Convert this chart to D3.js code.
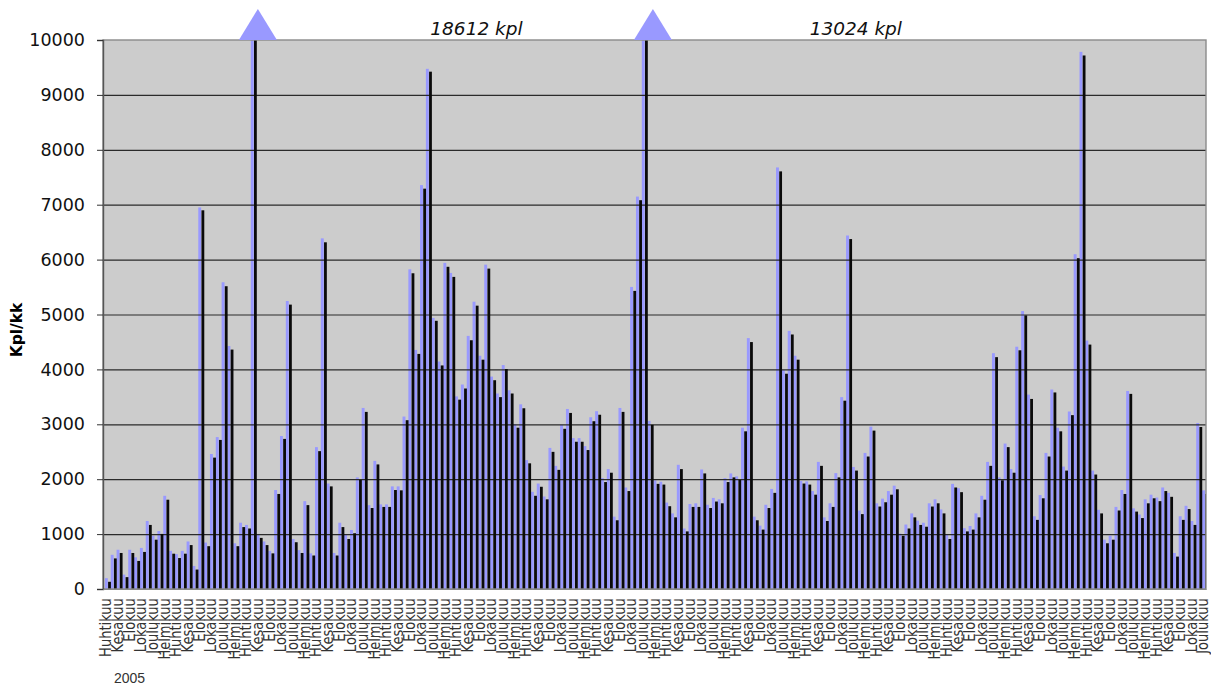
<!DOCTYPE html>
<html>
<head>
<meta charset="utf-8">
<title>Kpl/kk</title>
<script src="https://cdn.jsdelivr.net/npm/d3@7"></script>
<style>
  html, body { margin: 0; padding: 0; background: #fff; }
  svg { display: block; }
  svg text { font-family: "DejaVu Sans", sans-serif; }
</style>
</head>
<body>
<div id="chart"></div>
<script>
const monthNames = ["Huhtikuu", "Kesakuu", "Elokuu", "Lokakuu", "Joulukuu", "Helmikuu"];
const yTicks = [0, 1000, 2000, 3000, 4000, 5000, 6000, 7000, 8000, 9000, 10000];
const yearLabel = "2005";
const yTitle = "Kpl/kk";

// front series, two months per label
const blackValues = [
  131, 557, 656, 216, 656, 511, 675, 1167, 898, 1003, 1626, 643, 564, 643, 800, 354,
  6898, 780, 2393, 2715, 5515, 4361, 780, 1128, 1102, 18612, 931, 800, 649, 1731, 2734,
  5180, 852, 656, 1528, 610, 2511, 6315, 1869, 610, 1128, 911, 1016, 1987, 3226, 1475,
  2269, 1495, 1495, 1803, 1797, 3075, 5751, 4282, 7292, 9423, 4885, 4072, 5869, 5685,
  3449, 3652, 4531, 5161, 4177, 5836, 3803, 3495, 4007, 3561, 2938, 3292, 2289, 1698,
  1862, 1633, 2498, 2170, 2918, 3207, 2682, 2682, 2531, 3056, 3174, 1948, 2118, 1252,
  3226, 1784, 5430, 7082, 13024, 2990, 1915, 1902, 1508, 1305, 2184, 1049, 1495, 1495,
  2105, 1475, 1593, 1561, 1948, 2033, 1987, 2872, 4498, 1252, 1082, 1475, 1751, 7607,
  3921, 4636, 4177, 1921, 1902, 1718, 2243, 1239, 1495, 2033, 3430, 6374, 2157, 1364,
  2413, 2885, 1502, 1580, 1718, 1816, 970, 1102, 1305, 1167, 1134, 1502, 1561, 1377,
  911, 1849, 1764, 1049, 1082, 1305, 1626, 2243, 4223, 1980, 2584, 2118, 4348, 4984,
  3462, 1259, 1652, 2413, 3580, 2872, 2157, 3167, 6026, 9718, 4452, 2085, 1377, 833,
  898, 1430, 1731, 3554, 1410, 1292, 1561, 1652, 1600, 1784, 1679, 590, 1259, 1456,
  1167, 2951, 1731
];

// lighter series just behind it
const blueValues = [
  197, 623, 715, 262, 715, 577, 748, 1239, 970, 1056, 1698, 695, 636, 695, 866, 420,
  6950, 846, 2459, 2767, 5587, 4426, 833, 1207, 1167, 18680, 1003, 866, 695, 1803, 2787,
  5246, 911, 708, 1600, 649, 2584, 6387, 1921, 656, 1207, 984, 1075, 2033, 3298, 1528,
  2334, 1541, 1541, 1869, 1869, 3141, 5823, 4354, 7357, 9475, 4938, 4144, 5941, 5757,
  3508, 3725, 4610, 5233, 4249, 5908, 3869, 3561, 4079, 3620, 3003, 3364, 2348, 1770,
  1921, 1685, 2570, 2243, 2990, 3279, 2748, 2748, 2603, 3128, 3239, 2020, 2184, 1318,
  3298, 1849, 5502, 7148, 13090, 3062, 1980, 1954, 1574, 1377, 2262, 1102, 1548, 1561,
  2177, 1534, 1659, 1633, 2020, 2105, 2052, 2938, 4570, 1318, 1154, 1534, 1823, 7679,
  3987, 4702, 4249, 1967, 1961, 1784, 2315, 1305, 1561, 2111, 3495, 6439, 2223, 1430,
  2479, 2957, 1561, 1646, 1784, 1882, 1010, 1174, 1377, 1246, 1207, 1561, 1633, 1449,
  984, 1915, 1836, 1108, 1148, 1377, 1698, 2315, 4295, 2033, 2649, 2184, 4413, 5062,
  3541, 1325, 1711, 2479, 3633, 2938, 2230, 3233, 6098, 9784, 4525, 2157, 1443, 898,
  970, 1495, 1803, 3607, 1469, 1357, 1633, 1718, 1666, 1849, 1751, 656, 1325, 1515,
  1239, 3023, 1797
];

const notes = [
  { index: 25, text: "18612 kpl", textIndex: 64 },
  { index: 92, text: "13024 kpl", textIndex: 129 }
];

const totalWidth = 1211;
const totalHeight = 686;
const margin = ({top: 40, right: 5, bottom: 97, left: 103});
const width = totalWidth - margin.left - margin.right;
const height = totalHeight - margin.top - margin.bottom;

const x = d3.scaleBand()
  .domain(d3.range(blackValues.length))
  .range([0, width]);
const y = d3.scaleLinear()
  .domain([0, 10000])
  .range([height, 0]);

const svg = d3.select("#chart")
  .append("svg")
  .attr("width", totalWidth)
  .attr("height", totalHeight)
  .append("g")
  .attr("transform", `translate(${margin.left}, ${margin.top})`);

svg.append("defs").append("clipPath")
  .attr("id", "plot-clip")
  .append("rect")
  .attr("width", width)
  .attr("height", height);

svg.append("rect")
  .attr("width", width)
  .attr("height", height)
  .attr("fill", "#cccccc");

const bars = svg.append("g").attr("clip-path", "url(#plot-clip)");

bars.selectAll(".blue")
  .data(blueValues)
  .join("rect")
  .attr("class", "blue")
  .attr("fill", "#9999ff")
  .attr("x", (d, i) => x(i) + 1.9)
  .attr("width", 2.9)
  .attr("y", d => y(Math.min(d, 10000)))
  .attr("height", d => height - y(Math.min(d, 10000)));

// gridlines run over the blue bars but vanish into the black ones
svg.append("g")
  .attr("class", "grid")
  .call(d3.axisLeft(y).tickValues(yTicks.slice(1, -1)).tickSize(-width).tickFormat(""))
  .call(g => g.select(".domain").remove())
  .call(g => g.selectAll("line").attr("stroke", "#2a2a2a").attr("stroke-width", 1.2));

const blackBars = svg.append("g").attr("clip-path", "url(#plot-clip)");

blackBars.selectAll(".black")
  .data(blackValues)
  .join("rect")
  .attr("class", "black")
  .attr("fill", "#0a0a0a")
  .attr("x", (d, i) => x(i) + 5.1)
  .attr("width", 2.8)
  .attr("y", d => y(Math.min(d, 10000)))
  .attr("height", d => height - y(Math.min(d, 10000)));

svg.append("rect")
  .attr("width", width)
  .attr("height", height)
  .attr("fill", "none")
  .attr("stroke", "#8a8a8a")
  .attr("stroke-width", 1.4);

const yAxis = d3.axisLeft(y)
  .tickValues(yTicks)
  .tickSize(6)
  .tickPadding(12)
  .tickFormat(d3.format("d"));
svg.append("g")
  .attr("class", "y-axis")
  .call(yAxis)
  .call(g => g.select(".domain").attr("stroke", "#555").attr("stroke-width", 1.4))
  .call(g => g.selectAll("line").attr("stroke", "#333"))
  .selectAll("text")
  .attr("fill", "#111")
  .style("font-size", "17.5px");

const xAxis = d3.axisBottom(x)
  .tickValues(x.domain().filter(i => i % 2 === 0))
  .tickSize(0)
  .tickFormat(i => monthNames[(i / 2) % monthNames.length]);
svg.append("g")
  .attr("class", "x-axis")
  .attr("transform", `translate(0, ${height})`)
  .call(xAxis)
  .call(g => g.select(".domain").attr("stroke", "#8a8a8a"))
  .selectAll("text")
  .attr("transform", "rotate(-90) scale(0.87, 1)") // squeezed along the word, glyphs touch
  .attr("x", -10.5)
  .attr("y", 0)
  .attr("dy", "0.35em")
  .attr("fill", "#333")
  .style("text-anchor", "end")
  .style("font-size", "15px");

svg.append("text") // y-axis label
  .attr("transform", "rotate(-90)")
  .attr("x", -290)
  .attr("y", -81)
  .attr("fill", "black")
  .attr("text-anchor", "middle")
  .style("font-size", "15.5px")
  .style("font-weight", "bold")
  .text(yTitle);

svg.append("text")
  .attr("x", 11)
  .attr("y", 643)
  .attr("fill", "#333")
  .style("font-family", "'Liberation Sans', sans-serif")
  .style("font-size", "14px")
  .text(yearLabel);

// off-scale bars get a triangle above the plot and their real value as a note
const markerOffsets = [9, 13];
svg.selectAll(".marker")
  .data(notes)
  .join("path")
  .attr("class", "marker")
  .attr("fill", "#9999ff")
  .attr("d", (d, i) => {
    const cx = x(d.index) + markerOffsets[i];
    return `M${cx - 19},0L${cx},-31L${cx + 19},0Z`;
  });

svg.selectAll(".note")
  .data(notes)
  .join("text")
  .attr("class", "note")
  .attr("x", d => x(d.textIndex))
  .attr("y", -5)
  .attr("fill", "#111")
  .attr("text-anchor", "middle")
  .style("font-size", "18.5px")
  .style("font-style", "italic")
  .text(d => d.text);
</script>
</body>
</html>
